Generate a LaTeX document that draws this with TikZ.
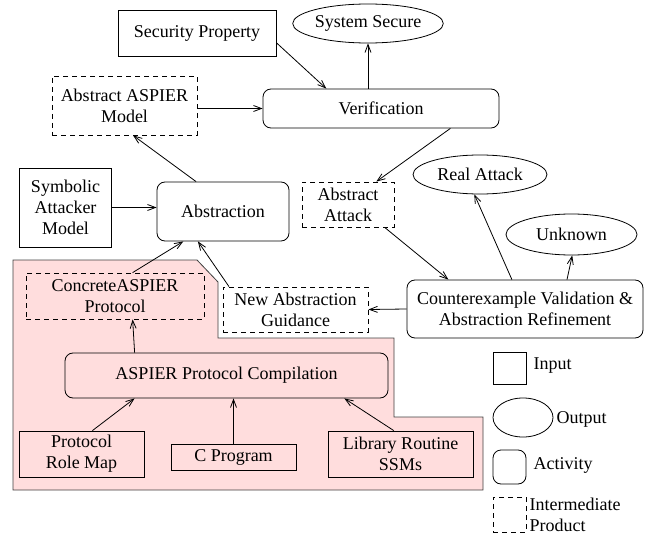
\documentclass[tikz,border=0pt]{standalone}
\usepackage{fontspec}
\setmainfont{Liberation Serif}
\usetikzlibrary{shapes.geometric, arrows.meta}
\definecolor{pinkbg}{RGB}{255,221,221}
\begin{document}
\begin{tikzpicture}[x=1pt, y=-1pt, line width=0.8pt,
    font=\fontsize{18}{21}\selectfont,
    arr/.style={-{Straight Barb[length=8pt, width=6pt]}},
    inbox/.style={draw, rectangle, inner sep=0pt, align=center},
    outell/.style={draw, ellipse, inner sep=0pt, align=center},
    actbox/.style={draw, rectangle, rounded corners=8pt, inner sep=0pt, align=center},
    midbox/.style={draw, rectangle, dash pattern=on 5pt off 4pt, inner sep=0pt, align=center}]
  \useasboundingbox (0,0) rectangle (654,535);
  % Compilation area
  \filldraw[fill=pinkbg, draw=black!75] (13,260) -- (197,260) -- (218,282) -- (218,338) -- (394,338)
    -- (394,417) -- (483,417) -- (483,490) -- (13,490) -- cycle;
  % Top row
  \node[inbox, minimum width=158pt, minimum height=46pt] (secprop) at (197,33) {Security Property};
  \node[outell, minimum width=130pt, minimum height=39pt] (syssecure) at (368,23.5) {System Secure};
  \node[actbox, minimum width=236pt, minimum height=39pt] (verif) at (381,108.5) {Verification};
  \node[midbox, minimum width=145pt, minimum height=59pt] (absmodel) at (124.5,105.5) {Abstract ASPIER\\Model};
  % Abstraction
  \node[inbox, minimum width=92pt, minimum height=79pt] (symatt) at (65.5,207.5) {Symbolic\\Attacker\\Model};
  \node[actbox, minimum width=132pt, minimum height=59pt] (abstr) at (223,211.5) {Abstraction};
  \node[midbox, minimum width=92pt, minimum height=45pt] (absattack) at (348,204.5) {Abstract\\Attack};
  % Refinement
  \node[outell, minimum width=134pt, minimum height=39pt] (realatt) at (480,174.5) {Real Attack};
  \node[outell, minimum width=131pt, minimum height=41pt] (unknown) at (571.5,234.5) {Unknown};
  \node[actbox, minimum width=236pt, minimum height=58pt] (cexval) at (525,309) {Counterexample Validation \&\\Abstraction Refinement};
  \node[midbox, minimum width=145pt, minimum height=45pt] (newguide) at (295.5,309.5) {New Abstraction\\Guidance};
  % Compilation
  \node[midbox, minimum width=178pt, minimum height=46pt] (concproto) at (115,296) {ConcreteASPIER\\Protocol};
  \node[actbox, minimum width=323pt, minimum height=45pt] (compile) at (226.5,375.5) {ASPIER Protocol Compilation};
  \node[inbox, minimum width=125pt, minimum height=46pt] (rolemap) at (81.5,454) {Protocol\\Role Map};
  \node[inbox, minimum width=125pt, minimum height=26pt] (cprog) at (233.5,457) {C Program};
  \node[inbox, minimum width=145pt, minimum height=46pt] (libssm) at (400.5,454) {Library Routine\\SSMs};
  % Legend
  \node[inbox, minimum width=33pt, minimum height=32pt] (keyin) at (509.5,368) {};
  \node[anchor=west] (keyinlbl) at (530,366) {Input};
  \node[outell, minimum width=60pt, minimum height=39pt] (keyout) at (523,417.5) {};
  \node[anchor=west] (keyoutlbl) at (553,419) {Output};
  \node[actbox, minimum width=33pt, minimum height=34pt] (keyact) at (509.5,467) {};
  \node[anchor=west] (keyactlbl) at (530,465) {Activity};
  \node[midbox, minimum width=33pt, minimum height=35pt] (keymid) at (509.5,514.5) {};
  \node[anchor=west, align=left] (keymidlbl) at (526,514.5) {Intermediate\\Product};
  % Connectors
  \draw[arr] (secprop.-7) -- (verif.160);
  \draw[arr] (verif.north -| syssecure.south) -- (syssecure.south);
  \draw[arr] (absmodel.east |- verif) -- (verif.west);
  \draw[arr] (abstr.132) -- (absmodel.-74);
  \draw[arr] (symatt.east) -- (symatt.east -| abstr.west);
  \draw[arr] (verif.-16.5) -- (absattack.39);
  \draw[arr] (absattack.-32.7) -- (cexval.159);
  \draw[arr] (cexval.114) -- (realatt.-106);
  \draw[arr] (cexval.35) -- (unknown.-88);
  \draw[arr] (cexval.west) -- (newguide.east);
  \draw[arr] (newguide.161) -- (abstr.-130);
  \draw[arr] (concproto.53.5) -- (abstr.-143.6);
  \draw[arr] (compile.166.6) -- (concproto.-53.5);
  \draw[arr] (rolemap.65.5) -- (compile.-166.9);
  \draw[arr] (cprog.north) -- (cprog.north |- compile.south);
  \draw[arr] (libssm.106) -- (compile.-11.5);
\end{tikzpicture}
\end{document}
